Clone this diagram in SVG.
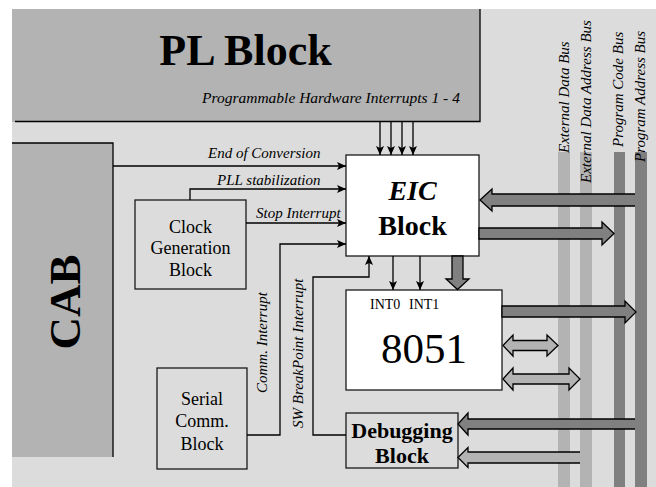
<svg xmlns="http://www.w3.org/2000/svg" width="656" height="487" viewBox="0 0 656 487">
<defs>
<style>
.box{stroke:#1a1a1a;stroke-width:1.3}
.w{fill:#fff}
.lg{fill:#dcdcdc}
.g1{fill:#b3b3b3}
.g2{fill:#808080}
.t{font-family:"Liberation Serif","Times New Roman",serif;fill:#000}
.it{font-style:italic;font-size:15px}
.ln{fill:none;stroke:#000;stroke-width:1.3}
.ba{stroke:#000;stroke-width:1.3;stroke-linejoin:miter}
</style>
<marker id="ah" markerWidth="10" markerHeight="10" refX="9" refY="5" orient="auto" markerUnits="userSpaceOnUse">
<path d="M0,1 L9,5 L0,9 L2,5 z" fill="#000"/>
</marker>
</defs>
<rect x="12" y="9" width="644" height="478" fill="#dcdcdc"/>

<g id="buses">
<rect x="558" y="152" width="12" height="335" class="g1"/>
<rect x="580" y="152" width="12" height="335" class="g1"/>
<rect x="614" y="152" width="11" height="335" class="g2"/>
<rect x="635" y="152" width="12" height="335" class="g2"/>
<text class="t it" transform="translate(569,153) rotate(-90)">External Data Bus</text>
<text class="t it" transform="translate(591,183) rotate(-90)">External Data Address Bus</text>
<text class="t it" transform="translate(623,147) rotate(-90)">Program Code Bus</text>
<text class="t it" transform="translate(645,162) rotate(-90)">Program Address Bus</text>
</g>

<g id="pl-block">
<rect x="12" y="9" width="468" height="113" class="g1"/>
<path d="M15,121.5 H480 V9" class="ln" stroke="#1a1a1a"/>
<text class="t" x="245.5" y="65" text-anchor="middle" font-size="44" font-weight="bold">PL Block</text>
<text class="t it" x="202" y="103" style="font-size:15.5px">Programmable Hardware Interrupts 1 - 4</text>
</g>

<g id="cab">
<rect x="12" y="143" width="101" height="314" class="g1"/>
<path d="M12,143 H113 V457" class="ln" stroke="#1a1a1a"/>
<text class="t" transform="translate(80,302) rotate(-90)" text-anchor="middle" font-size="45" font-weight="bold">CAB</text>
</g>

<g id="clock">
<rect x="135" y="200" width="111" height="89" class="box lg"/>
<text class="t" font-size="18" text-anchor="middle"><tspan x="190.5" y="233">Clock</tspan><tspan x="190.5" y="254">Generation</tspan><tspan x="190.5" y="276">Block</tspan></text>
</g>

<g id="serial">
<rect x="157" y="368" width="90" height="101" class="box lg"/>
<text class="t" font-size="18" text-anchor="middle"><tspan x="202" y="405">Serial</tspan><tspan x="202" y="427">Comm.</tspan><tspan x="202" y="450">Block</tspan></text>
</g>

<g id="eic">
<rect x="346" y="155" width="133" height="101" class="box w"/>
<text class="t" x="412.5" y="200" text-anchor="middle" font-size="28" font-weight="bold" font-style="italic">EIC</text>
<text class="t" x="412.5" y="235" text-anchor="middle" font-size="28" font-weight="bold">Block</text>
</g>

<g id="cpu8051">
<rect x="346" y="290" width="156" height="100" class="box w"/>
<text class="t" x="370" y="309" font-size="14">INT0</text>
<text class="t" x="409" y="309" font-size="14">INT1</text>
<text class="t" x="424" y="363" text-anchor="middle" font-size="43">8051</text>
</g>

<g id="debug">
<rect x="346" y="413" width="112" height="55" class="box lg"/>
<text class="t" x="402" y="438" text-anchor="middle" font-size="22" font-weight="bold">Debugging</text>
<text class="t" x="402" y="463" text-anchor="middle" font-size="22" font-weight="bold">Block</text>
</g>

<g id="connectors">
<path d="M380,122 V155" class="ln" marker-end="url(#ah)"/>
<path d="M391,122 V155" class="ln" marker-end="url(#ah)"/>
<path d="M402,122 V155" class="ln" marker-end="url(#ah)"/>
<path d="M413,122 V155" class="ln" marker-end="url(#ah)"/>
<path d="M113,166 H346" class="ln" marker-end="url(#ah)"/>
<path d="M190,200 V189 H346" class="ln" marker-end="url(#ah)"/>
<path d="M246,223 H346" class="ln" marker-end="url(#ah)"/>
<path d="M247,435 H280 V244 H346" class="ln" marker-end="url(#ah)"/>
<path d="M346,435 H313 V277 H369 V256" class="ln" marker-end="url(#ah)"/>
<path d="M393,256 V290" class="ln" marker-end="url(#ah)"/>
<path d="M420,256 V290" class="ln" marker-end="url(#ah)"/>
<text class="t it" x="208" y="158">End of Conversion</text>
<text class="t it" x="217" y="185">PLL stabilization</text>
<text class="t it" x="256" y="218">Stop Interrupt</text>
<text class="t it" transform="translate(267,393) rotate(-90)">Comm. Interrupt</text>
<text class="t it" transform="translate(303,428) rotate(-90)">SW BreakPoint Interrupt</text>
<!-- bus arrows -->
<path d="M635,194 H492 V189 L480,200 L492,211 V206 H635" class="ba g2"/>
<path d="M479,228 H602 V222 L614,233.5 L602,245 V239 H479 Z" class="ba g2"/>
<path d="M502,306 H625 V301 L636,312 L625,323 V317 H502 Z" class="ba g2"/>
<path d="M452,256 V279 H446 L457.5,289.5 L469,279 H463 V256 Z" class="ba g2"/>
<path d="M503,345.5 L513,335 V340.5 H547 V335 L558,345.5 L547,356 V350.5 H513 V356 Z" class="ba g1"/>
<path d="M503,379 L513,368 V374 H569 V368 L580,379 L569,390 V384 H513 V390 Z" class="ba g1"/>
<path d="M635,419 H468 V413 L458,424 L468,435 V429 H635" class="ba g2"/>
<path d="M580,452 H468 V447.5 L458,457.5 L468,467.5 V463 H580" class="ba g1"/>
</g>
</svg>
